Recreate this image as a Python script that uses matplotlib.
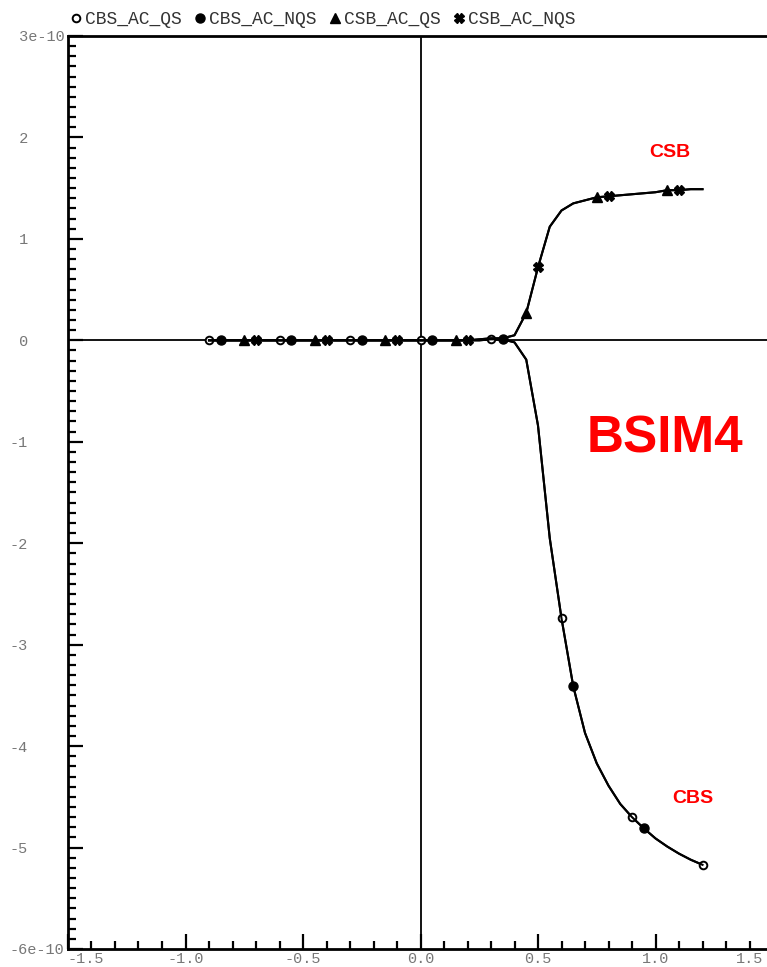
import matplotlib.pyplot as plt
import matplotlib.transforms as mtransforms
from matplotlib.lines import Line2D
from matplotlib.ticker import MultipleLocator

# sweep voltage (V) and capacitances (units of 1e-10 F)
vbs = [-0.90, -0.85, -0.80, -0.75, -0.70, -0.65, -0.60, -0.55, -0.50, -0.45,
       -0.40, -0.35, -0.30, -0.25, -0.20, -0.15, -0.10, -0.05, 0.00, 0.05,
       0.10, 0.15, 0.20, 0.25, 0.30, 0.35, 0.40, 0.45, 0.50, 0.55,
       0.60, 0.65, 0.70, 0.75, 0.80, 0.85, 0.90, 0.95, 1.00, 1.05,
       1.10, 1.15, 1.20]

cbs_ac_qs = [0.0, 0.0, 0.0, 0.0, 0.0, 0.0, 0.0, 0.0, 0.0, 0.0,
             0.0, 0.0, 0.0, 0.0, 0.0, 0.0, 0.0, 0.0, 0.0, 0.0,
             0.0, 0.0, 0.0, 0.0, 0.01, 0.01, -0.02, -0.19, -0.84, -1.95,
             -2.74, -3.41, -3.87, -4.17, -4.39, -4.57, -4.70, -4.81, -4.91, -4.99,
             -5.06, -5.12, -5.17]
cbs_ac_nqs = list(cbs_ac_qs)

csb_ac_qs = [0.0, 0.0, 0.0, 0.0, 0.0, 0.0, 0.0, 0.0, 0.0, 0.0,
             0.0, 0.0, 0.0, 0.0, 0.0, 0.0, 0.0, 0.0, 0.0, 0.0,
             0.0, 0.0, 0.0, 0.01, 0.02, 0.02, 0.05, 0.27, 0.72, 1.12,
             1.28, 1.35, 1.38, 1.41, 1.42, 1.43, 1.44, 1.45, 1.46, 1.48,
             1.48, 1.49, 1.49]
csb_ac_nqs = list(csb_ac_qs)

series = ["CBS_AC_QS", "CBS_AC_NQS", "CSB_AC_QS", "CSB_AC_NQS"]
xtick_vals = [-1.5, -1.0, -0.5, 0.0, 0.5, 1.0, 1.5]
xtick_labels = ["-1.5", "-1.0", "-0.5", "0.0", "0.5", "1.0", "1.5"]
ytick_vals = [3, 2, 1, 0, -1, -2, -3, -4, -5, -6]
ytick_labels = [" 3e-10", " 2", " 1", " 0", "-1", "-2", "-3", "-4", "-5", "-6e-10"]

W, H = 767, 967
fig = plt.figure(figsize=(W / 100, H / 100), dpi=100)
# axes runs a little past the right edge of the picture, like the original
ax = fig.add_axes([68 / W, (H - 949) / H, 705 / W, (949 - 36) / H])

ax.axhline(0, color="black", lw=1.3, zorder=1)
ax.axvline(0, color="black", lw=1.3, zorder=1)

styles = [
    dict(marker="o", mfc="white", mec="black", ms=5.5, mew=1.4),
    dict(marker="o", mfc="black", mec="black", ms=6.5),
    dict(marker="^", mfc="black", mec="black", ms=6.5),
    dict(marker="X", mfc="black", mec="black", ms=6.5),
]
offsets = [0, 1, 3, 4]
data = [cbs_ac_qs, cbs_ac_nqs, csb_ac_qs, csb_ac_nqs]
for y, st, off in zip(data, styles, offsets):
    ax.plot(vbs, y, color="black", lw=1.5, markevery=(off, 6), zorder=3, **st)

ax.set_xlim(-1.5, 1.5)
ax.set_ylim(-6, 3)

ax.xaxis.set_minor_locator(MultipleLocator(0.1))
ax.yaxis.set_minor_locator(MultipleLocator(0.1))
ax.set_xticks(xtick_vals, xtick_labels)
ax.set_yticks(ytick_vals, ytick_labels)
ax.tick_params(which="both", direction="in", width=1.6, color="black")
ax.tick_params(which="major", length=11)
ax.tick_params(which="minor", length=6)
ax.tick_params(axis="x", pad=2, labelsize=11, labelcolor="#777777")
ax.tick_params(axis="y", pad=42, labelsize=11, labelcolor="#777777")
for lab in ax.get_xticklabels() + ax.get_yticklabels():
    lab.set_family("Liberation Mono")
for lab in ax.get_yticklabels():
    lab.set_ha("left")
ax.get_xticklabels()[0].set_ha("left")
# the 1.5 tick sits just past the picture edge; pull its label inside
last = ax.get_xticklabels()[-1]
last.set_ha("right")
last.set_transform(last.get_transform()
                   + mtransforms.ScaledTranslation(-7 / 72, 0, fig.dpi_scale_trans))

for side in ["left", "bottom", "top", "right"]:
    ax.spines[side].set_linewidth(2)

ax.text(1.06, 1.85, "CSB", color="red", fontsize=14, fontweight="bold",
        family="Liberation Sans", ha="center", va="center")
ax.text(1.16, -4.52, "CBS", color="red", fontsize=14, fontweight="bold",
        family="Liberation Sans", ha="center", va="center")
ax.text(1.04, -0.97, "BSIM4", color="red", fontsize=37, fontweight="bold",
        family="Liberation Sans", ha="center", va="center")

handles = [Line2D([], [], ls="none", color="black", **st) for st in styles]
fig.legend(handles, series, loc="upper left", bbox_to_anchor=(60 / W, 1.0),
           ncol=4, frameon=False, handlelength=0.6, handletextpad=0.2,
           columnspacing=0.7, borderaxespad=0.2,
           prop={"family": "Liberation Mono", "size": 13})
for t in fig.legends[0].get_texts():
    t.set_color("#333333")

fig.savefig("out.png", dpi=100)
